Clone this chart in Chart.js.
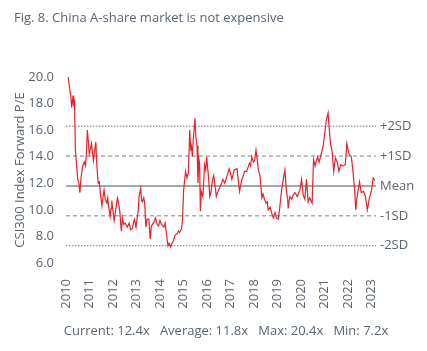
<!DOCTYPE html>
<html>
<head>
<meta charset="utf-8">
<script src="https://cdn.jsdelivr.net/npm/chart.js@4.4.0/dist/chart.umd.min.js"></script>
<style>
  body { margin: 0; background: #fff; font-family: 'Open Sans', sans-serif; color: #5a6470; }
  #wrap { position: relative; width: 427px; height: 351px; overflow: hidden; }
  #title { position: absolute; left: 14px; top: 8px; font-size: 13px; }
  #foot { position: absolute; left: 0; top: 321px; width: 452px; text-align: center; font-size: 13px; white-space: pre; }
  canvas { position: absolute; left: 0; top: 0; }
</style>
</head>
<body>
<div id="wrap">
  <canvas id="chart" width="427" height="351"></canvas>
  <div id="title">Fig. 8. China A-share market is not expensive</div>
  <div id="foot"></div>
</div>
<script>
/* CSI300 forward P/E (decimal years) */
const dates = [
  2010.07, 2010.14, 2010.21, 2010.24, 2010.30, 2010.33, 2010.36, 2010.40, 2010.45, 2010.50,
  2010.55, 2010.59, 2010.64, 2010.71, 2010.78, 2010.83, 2010.87, 2010.91, 2010.95, 2010.99,
  2011.04, 2011.09, 2011.13, 2011.17, 2011.23, 2011.27, 2011.31, 2011.37, 2011.42, 2011.48,
  2011.53, 2011.57, 2011.62, 2011.67, 2011.74, 2011.78, 2011.82, 2011.88, 2011.92, 2011.95,
  2012.00, 2012.05, 2012.10, 2012.14, 2012.19, 2012.25, 2012.29, 2012.33, 2012.36, 2012.40,
  2012.46, 2012.52, 2012.61, 2012.69, 2012.75, 2012.83, 2012.88, 2012.92, 2012.98, 2013.03,
  2013.08, 2013.11, 2013.18, 2013.22, 2013.25, 2013.31, 2013.35, 2013.40, 2013.45, 2013.53,
  2013.58, 2013.64, 2013.72, 2013.77, 2013.81, 2013.88, 2013.94, 2014.00, 2014.07, 2014.17,
  2014.22, 2014.27, 2014.34, 2014.39, 2014.45, 2014.52, 2014.58, 2014.64, 2014.73, 2014.79,
  2014.84, 2014.92, 2014.96, 2015.01, 2015.09, 2015.15, 2015.21, 2015.27, 2015.31, 2015.34,
  2015.38, 2015.42, 2015.49, 2015.53, 2015.58, 2015.62, 2015.66, 2015.69, 2015.72, 2015.76,
  2015.83, 2015.90, 2015.95, 2015.99, 2016.04, 2016.08, 2016.12, 2016.17, 2016.24, 2016.29,
  2016.34, 2016.40, 2016.45, 2016.50, 2016.60, 2016.68, 2016.76, 2016.85, 2016.95, 2017.01,
  2017.06, 2017.12, 2017.16, 2017.28, 2017.33, 2017.39, 2017.44, 2017.49, 2017.54, 2017.60,
  2017.69, 2017.81, 2017.86, 2017.91, 2017.98, 2018.03, 2018.09, 2018.14, 2018.19, 2018.26,
  2018.34, 2018.39, 2018.45, 2018.52, 2018.57, 2018.61, 2018.69, 2018.75, 2018.83, 2018.90,
  2018.96, 2019.04, 2019.11, 2019.18, 2019.25, 2019.32, 2019.38, 2019.44, 2019.46, 2019.53,
  2019.61, 2019.67, 2019.75, 2019.85, 2019.96, 2020.03, 2020.10, 2020.17, 2020.24, 2020.31,
  2020.38, 2020.48, 2020.54, 2020.61, 2020.71, 2020.78, 2020.88, 2020.95, 2021.02, 2021.09,
  2021.16, 2021.20, 2021.26, 2021.33, 2021.40, 2021.47, 2021.55, 2021.62, 2021.70, 2021.79,
  2021.89, 2021.96, 2022.05, 2022.15, 2022.22, 2022.29, 2022.34, 2022.39, 2022.50, 2022.57,
  2022.67, 2022.75, 2022.83, 2022.92, 2023.00, 2023.08, 2023.16
];
const pe = [
  20.4, 19.3, 18.5, 17.7, 18.6, 17.8, 18.3, 14.5, 13.4, 12.3,
  12.0, 11.3, 12.4, 13.3, 13.6, 13.3, 14.3, 16.0, 15.2, 14.2,
  14.6, 15.0, 14.2, 13.7, 14.6, 15.1, 13.4, 12.0, 12.1, 11.0,
  10.3, 10.9, 11.5, 10.8, 10.5, 10.9, 10.2, 9.5, 10.1, 10.7,
  9.9, 9.2, 9.8, 10.3, 10.9, 10.4, 9.9, 8.9, 8.4, 9.4,
  8.9, 9.0, 8.7, 9.0, 8.5, 8.6, 9.1, 9.3, 8.7, 9.4,
  10.0, 11.0, 11.6, 10.7, 10.6, 10.9, 10.5, 8.7, 9.3, 9.3,
  7.8, 8.8, 9.0, 9.2, 9.4, 8.9, 8.8, 9.2, 8.9, 8.7,
  9.0, 8.3, 7.3, 7.5, 7.2, 7.5, 7.7, 8.1, 8.2, 8.4,
  8.3, 8.6, 9.2, 11.5, 12.9, 12.4, 12.8, 16.0, 14.6, 14.8,
  14.0, 15.3, 16.9, 15.5, 14.8, 12.0, 13.8, 13.5, 9.9, 11.4,
  11.0, 13.4, 13.0, 14.0, 13.0, 12.2, 11.0, 11.3, 12.3, 12.6,
  11.9, 11.0, 11.3, 11.5, 11.9, 12.3, 12.0, 12.5, 13.1, 12.7,
  12.3, 12.7, 13.0, 13.1, 12.3, 11.4, 11.9, 12.3, 12.5, 12.9,
  12.9, 13.5, 13.3, 14.0, 13.6, 13.7, 14.5, 13.8, 13.0, 12.6,
  10.9, 11.2, 10.8, 10.5, 10.6, 10.0, 10.2, 9.8, 9.4, 9.8,
  9.4, 9.3, 10.3, 11.5, 12.3, 13.0, 11.5, 10.8, 10.1, 11.0,
  10.8, 11.1, 11.3, 11.0, 11.5, 12.3, 11.1, 10.8, 12.3, 10.6,
  10.9, 10.5, 13.8, 13.3, 14.0, 13.6, 14.3, 14.8, 15.8, 16.8,
  17.3, 16.3, 15.0, 14.4, 12.9, 13.9, 13.6, 12.9, 13.4, 13.3,
  13.4, 15.0, 14.2, 14.0, 12.9, 11.5, 10.0, 10.9, 12.1, 11.3,
  11.4, 11.0, 10.0, 10.9, 11.4, 12.4, 12.2
];

/* mean and standard-deviation bands */
const bandLabels = ['+2SD', '+1SD', 'Mean', '-1SD', '-2SD'];
const bandValues = [16.3, 14.05, 11.8, 9.55, 7.3];

const yTicks = [6, 8, 10, 12, 14, 16, 18, 20];
const xTicks = [2010, 2011, 2012, 2013, 2014, 2015, 2016, 2017, 2018, 2019, 2020, 2021, 2022, 2023];

const current = 12.4, average = 11.8, maxPE = 20.4, minPE = 7.2;

const X_MIN = 2010, X_MAX = 2023.2;
const TXT = '#5a6470';

document.getElementById('foot').textContent =
  'Current: ' + current.toFixed(1) + 'x   Average: ' + average.toFixed(1) +
  'x   Max: ' + maxPE.toFixed(1) + 'x   Min: ' + minPE.toFixed(1) + 'x';

const bandStyle = [
  { color: '#6c747c', dash: [1.5, 1.5], width: 1 },
  { color: '#7a828a', dash: [4, 3], width: 1 },
  { color: '#a4a8ac', dash: [], width: 2 },
  { color: '#7a828a', dash: [4, 3], width: 1 },
  { color: '#6c747c', dash: [1.5, 1.5], width: 1 }
];

const bandSets = bandValues.map((v, i) => ({
  data: [{ x: X_MIN, y: v }, { x: X_MAX, y: v }],
  borderColor: bandStyle[i].color,
  borderDash: bandStyle[i].dash,
  borderWidth: bandStyle[i].width,
  pointRadius: 0,
  order: 2
}));

const bandText = {
  id: 'bandText',
  afterDatasetsDraw(chart) {
    const { ctx, chartArea, scales } = chart;
    ctx.save();
    ctx.font = '13px "Open Sans", sans-serif';
    ctx.fillStyle = TXT;
    ctx.textBaseline = 'middle';
    bandLabels.forEach((t, i) => {
      ctx.fillText(t, chartArea.right + 4, scales.y.getPixelForValue(bandValues[i]));
    });
    ctx.restore();
  }
};

Chart.defaults.font.family = '"Open Sans", sans-serif';
Chart.defaults.color = TXT;

new Chart(document.getElementById('chart'), {
  type: 'line',
  data: {
    datasets: [
      {
        data: dates.map((d, i) => ({ x: d, y: pe[i] })),
        borderColor: '#e5232b',
        borderWidth: 1.2,
        pointRadius: 0,
        tension: 0,
        order: 1
      },
      ...bandSets
    ]
  },
  options: {
    responsive: false,
    animation: false,
    layout: { padding: { left: 0, right: 51, top: 77, bottom: 43 } },
    plugins: { legend: { display: false }, tooltip: { enabled: false } },
    scales: {
      x: {
        type: 'linear', min: X_MIN, max: X_MAX,
        grid: { display: false }, border: { display: false },
        afterFit: s => { s.height = 45; },
        afterBuildTicks: s => { s.ticks = xTicks.map(v => ({ value: v })); },
        ticks: {
          autoSkip: false, minRotation: 90, maxRotation: 90, padding: 8,
          font: { size: 13 }, callback: v => String(v)
        }
      },
      y: {
        min: 6, max: 20,
        grid: { display: false }, border: { display: false },
        afterFit: s => { s.width = 66; },
        afterBuildTicks: s => { s.ticks = yTicks.map(v => ({ value: v })); },
        ticks: { padding: 4, font: { size: 13 }, callback: v => v.toFixed(1) },
        title: {
          display: true, text: 'CSI300 Index Forward P/E',
          font: { size: 13 }, padding: { top: 12, bottom: 0 }
        }
      }
    }
  },
  plugins: [bandText]
});
</script>
</body>
</html>
